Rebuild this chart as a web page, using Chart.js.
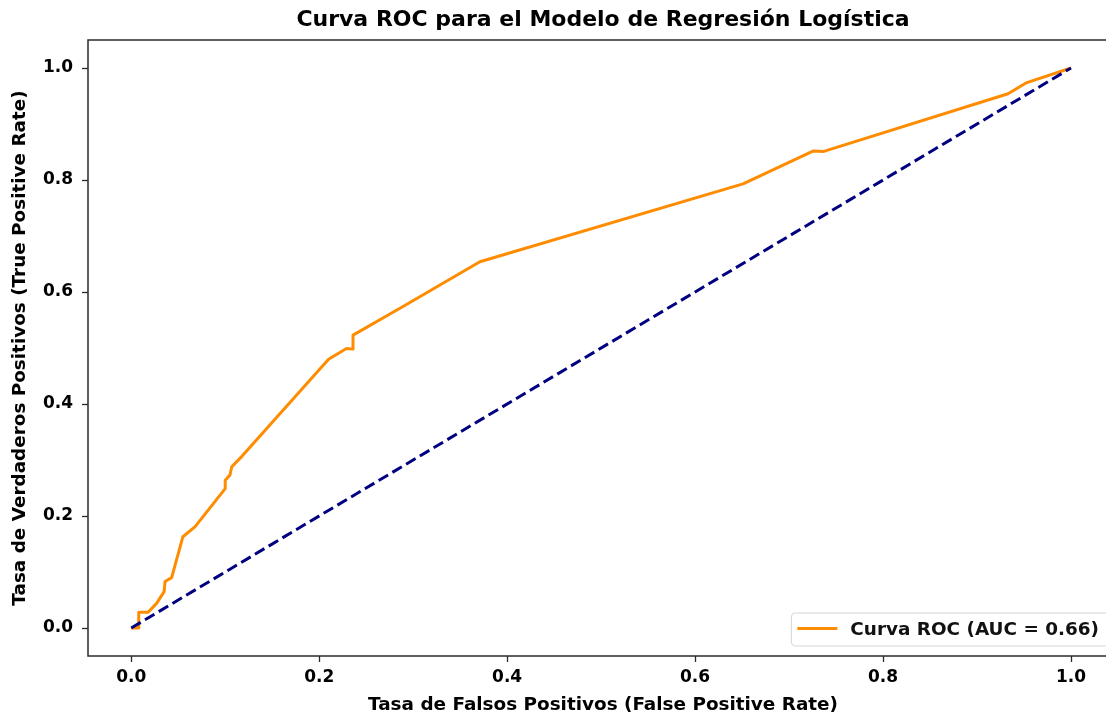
<!DOCTYPE html>
<html>
<head>
<meta charset="utf-8">
<script src="https://cdn.jsdelivr.net/npm/chart.js@4/dist/chart.umd.min.js"></script>
<style>
  html, body { margin: 0; padding: 0; background: #fff; overflow: hidden; }
  #wrap { width: 1120px; height: 713px; }
</style>
</head>
<body>
<div id="wrap"><canvas id="roc"></canvas></div>
<script>
// ROC curve points (false positive rate / true positive rate)
const fpr = [0, 0.008, 0.008, 0.018, 0.027, 0.035, 0.036, 0.043, 0.055, 0.068, 0.100, 0.100, 0.105, 0.107,
             0.118, 0.210, 0.229, 0.236, 0.236, 0.286, 0.371, 0.651, 0.726, 0.737, 0.933, 0.953, 1.0];
const tpr = [0, 0.000, 0.028, 0.028, 0.044, 0.065, 0.083, 0.090, 0.163, 0.181, 0.249, 0.264, 0.273, 0.288,
             0.307, 0.480, 0.499, 0.498, 0.523, 0.571, 0.654, 0.793, 0.852, 0.851, 0.954, 0.974, 1.0];
const aucValue = 0.66;

// chance line
const chanceX = [0, 1];
const chanceY = [0, 1];

const xTicks = [0, 0.2, 0.4, 0.6, 0.8, 1.0];
const yTicks = [0, 0.2, 0.4, 0.6, 0.8, 1.0];

const FONT = 'DejaVu Sans';

const toPoints = (xs, ys) => xs.map((x, i) => ({ x: x, y: ys[i] }));

// box around the axes
const framePlugin = {
  id: 'frame',
  afterDatasetsDraw(chart) {
    const { ctx, chartArea: a } = chart;
    ctx.save();
    ctx.strokeStyle = '#2b2b2b';
    ctx.lineWidth = 1.5;
    ctx.strokeRect(a.left, a.top, a.right - a.left, a.bottom - a.top);
    ctx.restore();
  }
};

// legend box in the lower right corner
const legendBox = {
  id: 'legendBox',
  afterDraw(chart) {
    const { ctx, chartArea: a } = chart;
    const ds = chart.data.datasets[1];
    ctx.save();
    ctx.font = 'bold 18.4px "' + FONT + '"';
    const tw = ctx.measureText(ds.label).width;
    const w = tw + 70, h = 33;
    const x = a.right - 8 - w, y = a.bottom - 10 - h;
    ctx.beginPath();
    ctx.roundRect(x, y, w, h, 4);
    ctx.fillStyle = 'rgba(255,255,255,0.8)';
    ctx.fill();
    ctx.strokeStyle = '#d5d5d5';
    ctx.lineWidth = 1;
    ctx.stroke();
    ctx.beginPath();
    ctx.moveTo(x + 6, y + h / 2 - 1);
    ctx.lineTo(x + 46, y + h / 2 - 1);
    ctx.strokeStyle = ds.borderColor;
    ctx.lineWidth = 3;
    ctx.stroke();
    ctx.fillStyle = '#111';
    ctx.textBaseline = 'middle';
    ctx.fillText(ds.label, x + 59, y + h / 2 + 1);
    ctx.restore();
  }
};

new Chart(document.getElementById('roc'), {
  type: 'scatter',
  data: {
    datasets: [{
      label: 'Azar',
      data: toPoints(chanceX, chanceY),
      showLine: true,
      borderColor: '#000080',
      borderWidth: 3,
      borderDash: [11, 5],
      pointRadius: 0,
      order: 0
    }, {
      label: 'Curva ROC (AUC = ' + aucValue.toFixed(2) + ')',
      data: toPoints(fpr, tpr),
      showLine: true,
      borderColor: '#ff8c00',
      borderWidth: 3,
      borderJoinStyle: 'round',
      pointRadius: 0,
      order: 1
    }]
  },
  options: {
    responsive: true,
    maintainAspectRatio: false,
    animation: false,
    layout: { padding: { left: 0, right: 2, top: 0, bottom: 0 } },
    plugins: {
      legend: { display: false },
      tooltip: { enabled: false },
      title: {
        display: true,
        fullSize: false,
        text: 'Curva ROC para el Modelo de Regresión Logística',
        color: '#000',
        font: { family: FONT, size: 22, weight: 'bold' },
        padding: { top: 7, bottom: 6.6 }
      }
    },
    scales: {
      x: {
        type: 'linear',
        min: -0.046,
        max: 1.05,
        afterBuildTicks: s => { s.ticks = xTicks.map(v => ({ value: v })); },
        afterFit: s => { s.height = 57; },
        grid: { drawOnChartArea: false, drawTicks: true, tickLength: 6, tickColor: '#2b2b2b', tickWidth: 1.3 },
        border: { display: false },
        ticks: {
          color: '#000',
          padding: 5,
          maxRotation: 0,
          font: { family: FONT, size: 17, weight: 'bold' },
          callback: v => v.toFixed(1)
        },
        title: {
          display: true,
          text: 'Tasa de Falsos Positivos (False Positive Rate)',
          color: '#000',
          font: { family: FONT, size: 18.4, weight: 'bold' },
          padding: { top: 0, bottom: -3 }
        }
      },
      y: {
        type: 'linear',
        min: -0.05,
        max: 1.05,
        afterBuildTicks: s => { s.ticks = yTicks.map(v => ({ value: v })); },
        afterFit: s => { s.width = 88; },
        grid: { drawOnChartArea: false, drawTicks: true, tickLength: 6, tickColor: '#2b2b2b', tickWidth: 1.3 },
        border: { display: false },
        ticks: {
          color: '#000',
          padding: 9,
          font: { family: FONT, size: 17, weight: 'bold' },
          callback: v => v.toFixed(1)
        },
        title: {
          display: true,
          text: 'Tasa de Verdaderos Positivos (True Positive Rate)',
          color: '#000',
          font: { family: FONT, size: 18.4, weight: 'bold' },
          padding: { top: 9, bottom: 0 }
        }
      }
    }
  },
  plugins: [framePlugin, legendBox]
});
</script>
</body>
</html>
